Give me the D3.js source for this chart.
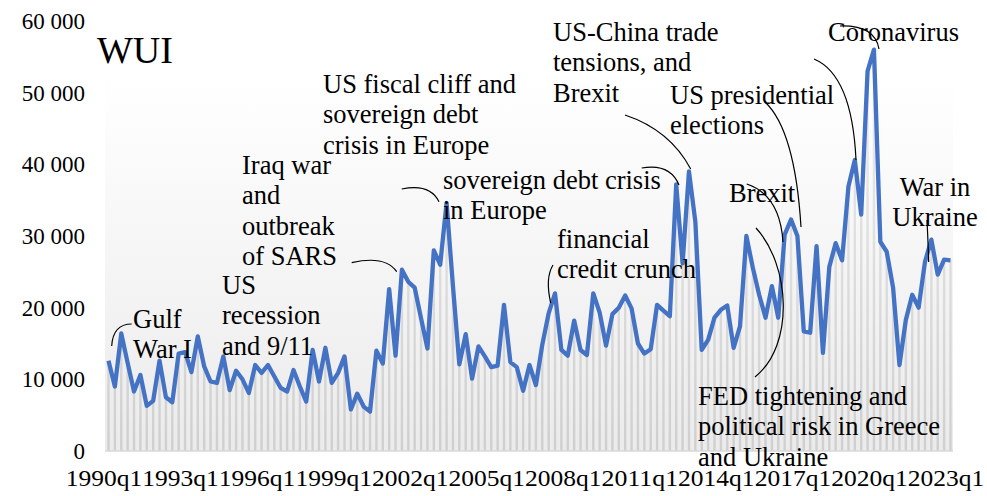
<!DOCTYPE html>
<html>
<head>
<meta charset="utf-8">
<script src="https://cdn.jsdelivr.net/npm/d3@7"></script>
<style>
  body { margin: 0; background: #fff; }
  svg text { font-family: "Liberation Serif", "Tinos", "DejaVu Serif", "Noto Serif", serif !important; fill: #000; }
</style>
</head>
<body>
<div id="chart"></div>
<script>
// World Uncertainty Index, quarterly 1990q1 - 2023q1
var years = d3.range(1990, 2024);
var categories = [];
years.forEach(function(yr) {
    [1, 2, 3, 4].forEach(function(q) {
        if (yr < 2023 || q === 1) categories.push(yr + "q" + q);
    });
});

var wui = [
    12600, 9000, 16400, 12300, 8300, 10600, 6300, 7000, 12600, 7500,
    6800, 13600, 13800, 11000, 16000, 11800, 9700, 9500, 13200, 8500,
    11200, 10000, 8100, 12000, 10900, 12000, 10400, 8800, 8300, 11300,
    9000, 6900, 14100, 9700, 14400, 9500, 10900, 13200, 5800, 8000,
    6200, 5500, 14000, 12200, 22600, 13300, 25300, 23600, 22800, 18500,
    14300, 28000, 26000, 34600, 23000, 12100, 16300, 10100, 14600, 13200,
    11700, 11900, 20400, 12400, 11700, 8400, 12000, 9200, 14800, 19200,
    22000, 14100, 13300, 18200, 14100, 13400, 22000, 19300, 14700, 19100,
    20000, 21700, 19900, 15000, 13600, 14200, 20400, 19600, 18800, 37200,
    26200, 39000, 32000, 14100, 15500, 18600, 19700, 20300, 14400, 17400,
    30000, 25600, 21800, 18600, 23000, 18600, 30200, 32300, 30000, 16700,
    16500, 28600, 13700, 25700, 29000, 26600, 36900, 40600, 33000, 53000,
    56000, 29200, 27800, 22800, 12000, 18300, 21800, 20000, 26400, 29500,
    24600, 26700, 26600
];

var xTickLabels = ["1990q1", "1993q1", "1996q1", "1999q1", "2002q1", "2005q1",
                   "2008q1", "2011q1", "2014q1", "2017q1", "2020q1", "2023q1"];
var yTicks = [0, 10000, 20000, 30000, 40000, 50000, 60000];

// event labels and their leader lines
var notes = [
    { lines: ["Gulf", "War I"], x: 133, y: 328, path: "M131.7,324 Q113,324 111.7,346" },
    { lines: ["US", "recession", "and 9/11"], x: 222, y: 294 },
    { lines: ["Iraq war", "and", "outbreak", "of SARS"], x: 242, y: 174, path: "M351.7,262.7 Q385,255 396.7,271.7" },
    { lines: ["US fiscal cliff and", "sovereign debt", "crisis in Europe"], x: 323, y: 93 },
    { lines: ["sovereign debt crisis", "in Europe"], x: 443, y: 189, path: "M401.7,189 Q430,183 439,201.7" },
    { lines: ["financial", "credit crunch"], x: 557, y: 248, path: "M553,265 Q545,278 550.7,303" },
    { lines: ["US-China trade", "tensions, and", "Brexit"], x: 553, y: 41, path: "M641.7,168 Q670,163 679,185" },
    { lines: ["US presidential", "elections"], x: 670, y: 104, path: "M625,115 Q670,130 690.7,169" },
    { lines: ["Brexit"], x: 729, y: 202, path: "M746.7,184 Q780,195 783,242" },
    { lines: ["Coronavirus"], x: 828, y: 41, path: "M840,26 Q875,25 879,49" },
    { lines: ["War in", "Ukraine"], x: 935, y: 196, anchor: "middle", path: "M927,220 Q928,240 928.7,262" },
    { lines: ["FED tightening and", "political risk in Greece", "and Ukraine"], x: 698, y: 405,
      path: "M756,228 C790,265 795,345 755,377" }
];
var extraLeaders = ["M765,102 Q795,130 801,227", "M814,59 Q852,75 856,160"];

var svgWidth = 987;
var svgHeight = 496;

var svg = d3.select("#chart")
    .append("svg")
    .attr("width", svgWidth)
    .attr("height", svgHeight);

var x = d3.scalePoint()
    .domain(categories)
    .range([108.5, 950.5]);

var y = d3.scaleLinear()
    .domain([0, 60000])
    .range([451, 21]);

var defs = svg.append("defs");
var bg = defs.append("linearGradient")
    .attr("id", "bg").attr("x1", 0).attr("y1", 0).attr("x2", 0).attr("y2", 1);
bg.append("stop").attr("offset", "0%").attr("stop-color", "#ffffff");
bg.append("stop").attr("offset", "100%").attr("stop-color", "#ebebeb");

var barGrad = defs.append("linearGradient")
    .attr("id", "barGrad").attr("gradientUnits", "userSpaceOnUse")
    .attr("x1", 0).attr("y1", y(60000)).attr("x2", 0).attr("y2", y(0));
barGrad.append("stop").attr("offset", "0%").attr("stop-color", "#f0f0f0");
barGrad.append("stop").attr("offset", "100%").attr("stop-color", "#cfcfcf");

// plot area background
svg.append("rect")
    .attr("x", 105).attr("y", 75)
    .attr("width", 848).attr("height", y(0) - 75)
    .attr("fill", "url(#bg)");

// thin grey bars under the line
svg.append("g").selectAll("rect")
    .data(wui)
    .enter().append("rect")
    .attr("x", (d, i) => x(categories[i]) - 1.2)
    .attr("y", d => y(d))
    .attr("width", 2.4)
    .attr("height", d => y(0) - y(d))
    .attr("fill", "url(#barGrad)");

svg.append("line")
    .attr("x1", 105).attr("x2", 953)
    .attr("y1", y(0)).attr("y2", y(0))
    .attr("stroke", "#d9d9d9").attr("stroke-width", 1.5);

// y axis labels
var leftAxis = d3.axisLeft(y)
    .tickValues(yTicks)
    .tickSize(0)
    .tickPadding(0)
    .tickFormat(d => d3.format(",")(d).replace(/,/g, " "));

svg.append("g")
    .attr("transform", "translate(85,0)")
    .call(leftAxis)
    .attr("font-family", null)
    .call(g => g.select(".domain").remove())
    .selectAll("text")
    .attr("font-size", 23)
    .attr("fill", "#000");

// x axis labels
var bottomAxis = d3.axisBottom(x)
    .tickValues(xTickLabels)
    .tickSize(0)
    .tickPadding(0);

svg.append("g")
    .attr("transform", "translate(-5,470)")
    .call(bottomAxis)
    .attr("font-family", null)
    .call(g => g.select(".domain").remove())
    .selectAll("text")
    .attr("font-size", 23)
    .attr("fill", "#000")
    .attr("textLength", 76.5)
    .attr("lengthAdjust", "spacingAndGlyphs");

// the WUI line
var line = d3.line()
    .x((d, i) => x(categories[i]))
    .y(d => y(d));

svg.append("path")
    .datum(wui)
    .attr("d", line)
    .attr("fill", "none")
    .attr("stroke", "#4472C4")
    .attr("stroke-width", 4.3)
    .attr("stroke-linejoin", "round");

// title
svg.append("text")
    .attr("x", 97).attr("y", 63)
    .attr("font-size", 38)
    .text("WUI");

// leaders
var leaders = svg.append("g")
    .attr("fill", "none")
    .attr("stroke", "#000")
    .attr("stroke-width", 1.2);
notes.filter(n => n.path).forEach(n => leaders.append("path").attr("d", n.path));
extraLeaders.forEach(p => leaders.append("path").attr("d", p));

// annotation texts
notes.forEach(function(n) {
    var t = svg.append("text")
        .attr("font-size", 26.5)
        .attr("text-anchor", n.anchor || "start");
    n.lines.forEach(function(s, k) {
        t.append("tspan")
            .attr("x", n.x)
            .attr("y", n.y + k * 30.3)
            .text(s);
    });
});
</script>
</body>
</html>
